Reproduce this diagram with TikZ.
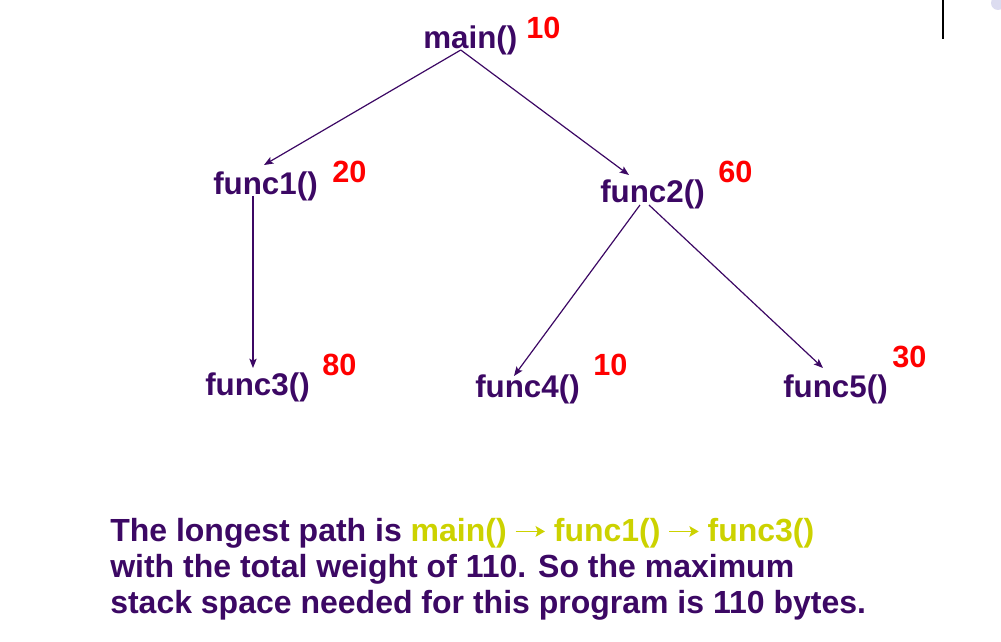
\documentclass[tikz,border=0pt]{standalone}
\usepackage{fontspec}
\setmainfont{Liberation Sans}
\usetikzlibrary{arrows.meta,calc}
\definecolor{fnpurple}{RGB}{60,8,100}
\definecolor{wred}{RGB}{255,0,0}
\definecolor{pathgreen}{RGB}{204,210,0}
\definecolor{lavender}{RGB}{220,220,240}
\newcommand{\patharrow}{\tikz[baseline=0pt,x=1pt,y=1pt]{\path[use as bounding box] (0,0) rectangle (22,9);\draw[draw=pathgreen,line width=1.2pt,-{Stealth[length=7pt,width=8pt,inset=1.5pt]}] (0,7.5) -- (22,7.5);}}
\begin{document}
\begin{tikzpicture}[x=0.75pt,y=-0.75pt,
  fn/.style={inner sep=0pt,anchor=base west,text=fnpurple,font=\fontsize{23.5}{28}\selectfont\bfseries},
  wt/.style={inner sep=0pt,anchor=base west,text=wred,font=\fontsize{23}{28}\selectfont\bfseries},
  call/.style={draw=fnpurple,line width=0.9pt,-{Stealth[length=7pt,width=5.5pt,inset=1.5pt]}}]
\useasboundingbox (0,0) rectangle (1001,642);
% decorations at top right
\draw[line width=0.9pt] (943,0) -- (943,39);
\fill[lavender] (998,3) circle (7);
% function nodes
\node[fn] (main)  at (423,49)  {main()};
\node[fn] (func1) at (213,195) {func1()};
\node[fn] (func2) at (600,203) {func2()};
\node[fn] (func3) at (205,395) {func3()};
\node[fn] (func4) at (475,397) {func4()};
\node[fn] (func5) at (783,397) {func5()};
% weights
\node[wt] (w0) at (526,39)  {10};
\node[wt] (w1) at (332,183) {20};
\node[wt] (w2) at (718,183) {60};
\node[wt] (w3) at (322,375) {80};
\node[wt] (w4) at (593,375) {10};
\node[wt] (w5) at (892,367) {30};
% calls
\draw[call] ($(main.base)+(-9.5,1)$) -- ($(func1.base)+(-1.5,-30)$);
\draw[call] ($(main.base)+(-9.5,1)$) -- ($(func2.base)+(-23.5,-28)$);
\draw[call] ($(func1.base)+(-12.5,1)$) -- ($(func3.base)+(-4.5,-27)$);
\draw[call] ($(func2.base)+(-12.5,2)$) -- ($(func4.base)+(-13.5,-21)$);
\draw[call] ($(func2.base)+(-3.5,2)$) -- ($(func5.base)+(-12.5,-29)$);
% summary
\node[inner sep=0pt,anchor=north west,align=left,text=fnpurple,font=\fontsize{24}{27}\selectfont\bfseries] (summary) at (110,518)
  {The longest path is \textcolor{pathgreen}{main() \patharrow{} func1() \patharrow{} func3()}\\with the total weight of 110. So the maximum\\stack space needed for this program is 110 bytes.};
\end{tikzpicture}
\end{document}
